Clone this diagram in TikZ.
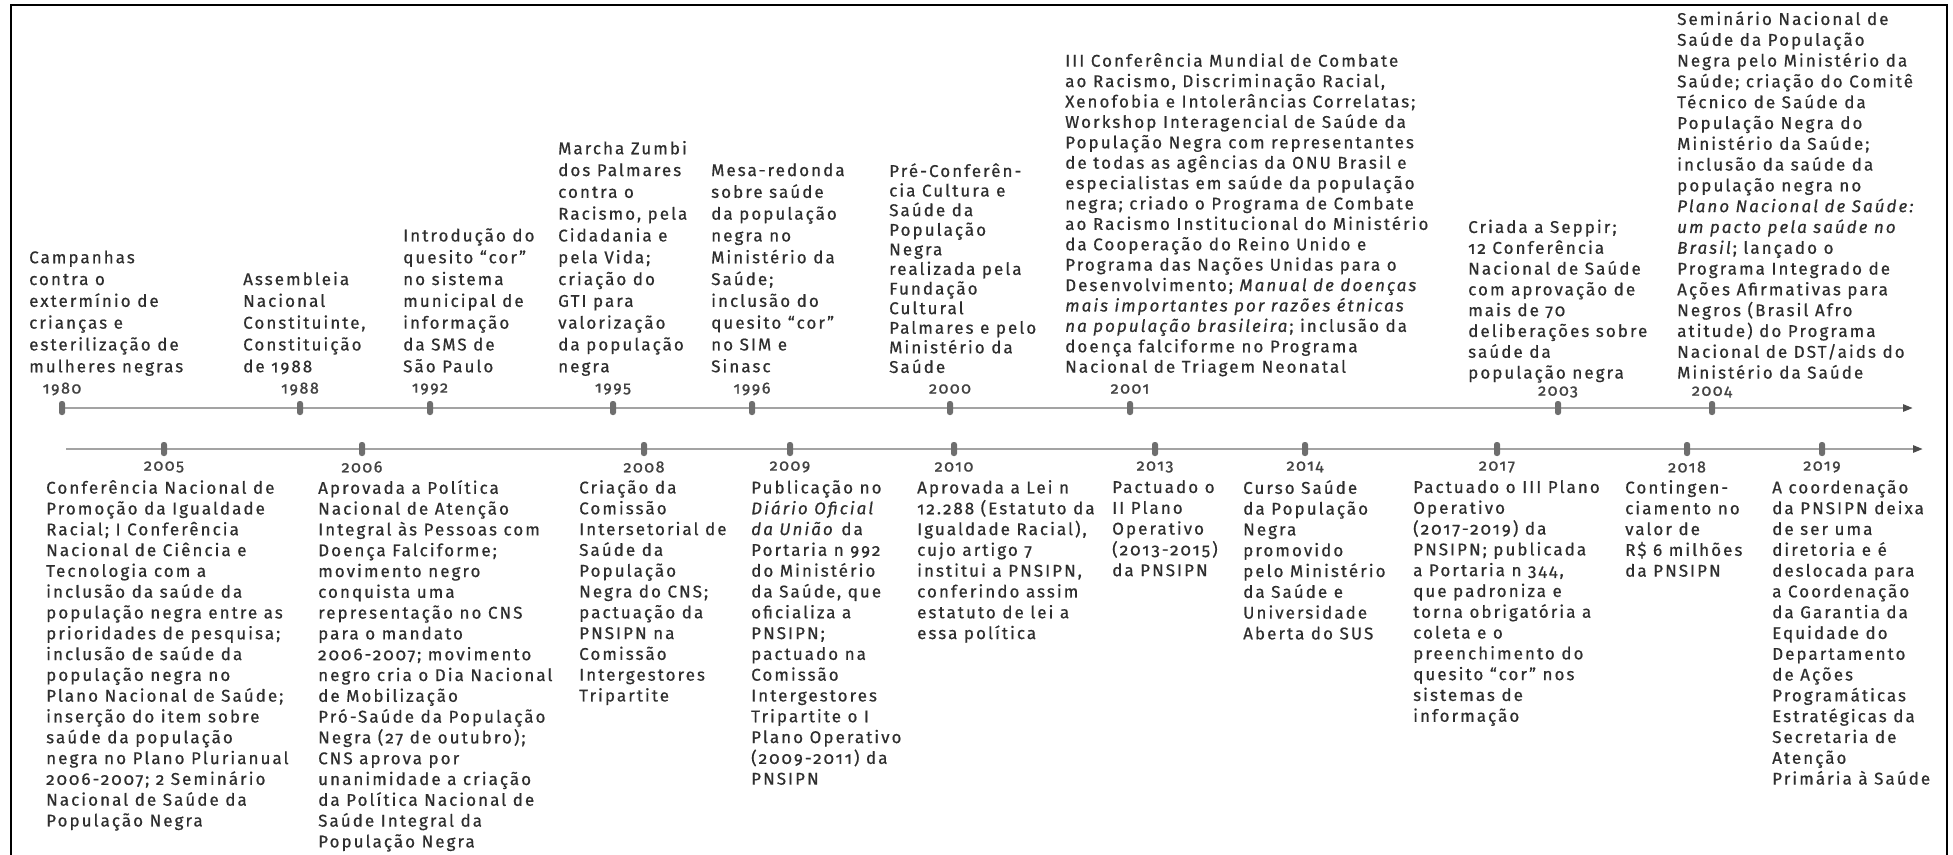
\documentclass[tikz,border=0pt]{standalone}
\usepackage{fontspec}
\setmainfont{Fira Sans}[Numbers=OldStyle,LetterSpace=12,FakeBold=0.6]
\newfontfamily\yearfont{Fira Sans}[Numbers=OldStyle,LetterSpace=10,FakeBold=1.2]
\usetikzlibrary{arrows.meta}
\definecolor{ink}{HTML}{2E2E2E}
\definecolor{axisgray}{HTML}{A3A3A3}
\definecolor{tickgray}{HTML}{6E6E6E}
\begin{document}
\begin{tikzpicture}[x=1pt,y=-1pt,
  up/.style={anchor=south west, align=left, inner sep=0pt, text=ink, font=\fontsize{17}{21.8}\selectfont, execute at end node=\strut},
  dn/.style={anchor=north west, align=left, inner sep=0pt, text=ink, font=\fontsize{17}{20.8}\selectfont, execute at begin node=\strut},
  yr/.style={inner sep=0pt, text=ink!90, font=\yearfont\fontsize{16}{16}\selectfont},
  tk/.style={fill=tickgray, rounded corners=2.5pt, minimum width=6pt, minimum height=14pt, inner sep=0pt},
  axisline/.style={draw=axisgray, line width=2.6pt, -{Triangle[length=10pt,width=7pt,color=black!70]}}]
\useasboundingbox (0,0) rectangle (1953,854);
\draw[line width=2.2pt] (11,860) -- (11,5) -- (1947,5) -- (1947,860);
\coordinate (us) at (59,408);
\coordinate (ue) at (1913,408);
\coordinate (ls) at (66,449);
\coordinate (le) at (1923,449);
\draw[axisline] (us) -- (ue);
\draw[axisline] (ls) -- (le);
\node[tk] (k80) at (62,408) {};
\node[tk] (k88) at (300,408) {};
\node[tk] (k92) at (430,408) {};
\node[tk] (k95) at (613,408) {};
\node[tk] (k96) at (752,408) {};
\node[tk] (k00) at (950,408) {};
\node[tk] (k01) at (1130,408) {};
\node[tk] (k03) at (1558,408) {};
\node[tk] (k04) at (1712,408) {};
\node[tk] (k05) at (164,449) {};
\node[tk] (k06) at (362,449) {};
\node[tk] (k08) at (644,449) {};
\node[tk] (k09) at (790,449) {};
\node[tk] (k10) at (954,449) {};
\node[tk] (k13) at (1155,449) {};
\node[tk] (k14) at (1305,449) {};
\node[tk] (k17) at (1497,449) {};
\node[tk] (k18) at (1687,449) {};
\node[tk] (k19) at (1822,449) {};
\node[yr] (y80) at (62,389) {1980};
\node[yr] (y88) at (300,389) {1988};
\node[yr] (y92) at (430,389) {1992};
\node[yr] (y95) at (613,389) {1995};
\node[yr] (y96) at (752,389) {1996};
\node[yr] (y00) at (950,389) {2000};
\node[yr] (y01) at (1130,389) {2001};
\node[yr] (y03) at (1558,392) {2003};
\node[yr] (y04) at (1712,392) {2004};
\node[yr] (y05) at (164,467) {2005};
\node[yr] (y06) at (362,467) {2006};
\node[yr] (y08) at (644,467) {2008};
\node[yr] (y09) at (790,467) {2009};
\node[yr] (y10) at (954,467) {2010};
\node[yr] (y13) at (1155,467) {2013};
\node[yr] (y14) at (1305,467) {2014};
\node[yr] (y17) at (1497,467) {2017};
\node[yr] (y18) at (1687,467) {2018};
\node[yr] (y19) at (1822,467) {2019};
\node[up] (t80) at (29,379) {Campanhas\\contra o\\extermínio de\\crianças e\\esterilização de\\mulheres negras};
\node[up] (t88) at (243,379) {Assembleia\\Nacional\\Constituinte,\\Constituição\\de 1988};
\node[up] (t92) at (403,379) {Introdução do\\quesito “cor”\\no sistema\\municipal de\\informação\\da SMS de\\São Paulo};
\node[up] (t95) at (558,379) {Marcha Zumbi\\dos Palmares\\contra o\\Racismo, pela\\Cidadania e\\pela Vida;\\criação do\\GTI para\\valorização\\da população\\negra};
\node[up] (t96) at (711,379) {Mesa-redonda\\sobre saúde\\da população\\negra no\\Ministério da\\Saúde;\\inclusão do\\quesito “cor”\\no SIM e\\Sinasc};
\node[up, font=\fontsize{17}{19.6}\selectfont] (t00) at (889,379) {Pré-Conferên-\\cia Cultura e\\Saúde da\\População\\Negra\\realizada pela\\Fundação\\Cultural\\Palmares e pelo\\Ministério da\\Saúde};
\node[up, font=\fontsize{17}{20.4}\selectfont] (t01) at (1065,379) {III Conferência Mundial de Combate\\ao Racismo, Discriminação Racial,\\Xenofobia e Intolerâncias Correlatas;\\Workshop Interagencial de Saúde da\\População Negra com representantes\\de todas as agências da ONU Brasil e\\especialistas em saúde da população\\negra; criado o Programa de Combate\\ao Racismo Institucional do Ministério\\da Cooperação do Reino Unido e\\Programa das Nações Unidas para o\\Desenvolvimento; \textit{Manual de doenças}\\\textit{mais importantes por razões étnicas}\\\textit{na população brasileira}; inclusão da\\doença falciforme no Programa\\Nacional de Triagem Neonatal};
\node[up, font=\fontsize{17}{20.8}\selectfont] (t03) at (1468,385) {Criada a Seppir;\\12 Conferência\\Nacional de Saúde\\com aprovação de\\mais de 70\\deliberações sobre\\saúde da\\população negra};
\node[up, font=\fontsize{17}{20.8}\selectfont] (t04) at (1677,385) {Seminário Nacional de\\Saúde da População\\Negra pelo Ministério da\\Saúde; criação do Comitê\\Técnico de Saúde da\\População Negra do\\Ministério da Saúde;\\inclusão da saúde da\\população negra no\\\textit{Plano Nacional de Saúde:}\\\textit{um pacto pela saúde no}\\\textit{Brasil}; lançado o\\Programa Integrado de\\Ações Afirmativas para\\Negros (Brasil Afro\\atitude) do Programa\\Nacional de DST/aids do\\Ministério da Saúde};
\node[dn] (t05) at (46,480) {Conferência Nacional de\\Promoção da Igualdade\\Racial; I Conferência\\Nacional de Ciência e\\Tecnologia com a\\inclusão da saúde da\\população negra entre as\\prioridades de pesquisa;\\inclusão de saúde da\\população negra no\\Plano Nacional de Saúde;\\inserção do item sobre\\saúde da população\\negra no Plano Plurianual\\2006-2007; 2 Seminário\\Nacional de Saúde da\\População Negra};
\node[dn] (t06) at (318,480) {Aprovada a Política\\Nacional de Atenção\\Integral às Pessoas com\\Doença Falciforme;\\movimento negro\\conquista uma\\representação no CNS\\para o mandato\\2006-2007; movimento\\negro cria o Dia Nacional\\de Mobilização\\Pró-Saúde da População\\Negra (27 de outubro);\\CNS aprova por\\unanimidade a criação\\da Política Nacional de\\Saúde Integral da\\População Negra};
\node[dn] (t08) at (579,480) {Criação da\\Comissão\\Intersetorial de\\Saúde da\\População\\Negra do CNS;\\pactuação da\\PNSIPN na\\Comissão\\Intergestores\\Tripartite};
\node[dn] (t09) at (751,480) {Publicação no\\\textit{Diário Oficial}\\\textit{da União} da\\Portaria n 992\\do Ministério\\da Saúde, que\\oficializa a\\PNSIPN;\\pactuado na\\Comissão\\Intergestores\\Tripartite o I\\Plano Operativo\\(2009-2011) da\\PNSIPN};
\node[dn] (t10) at (917,480) {Aprovada a Lei n\\12.288 (Estatuto da\\Igualdade Racial),\\cujo artigo 7\\institui a PNSIPN,\\conferindo assim\\estatuto de lei a\\essa política};
\node[dn] (t13) at (1112,480) {Pactuado o\\II Plano\\Operativo\\(2013-2015)\\da PNSIPN};
\node[dn] (t14) at (1243,480) {Curso Saúde\\da População\\Negra\\promovido\\pelo Ministério\\da Saúde e\\Universidade\\Aberta do SUS};
\node[dn] (t17) at (1413,480) {Pactuado o III Plano\\Operativo\\(2017-2019) da\\PNSIPN; publicada\\a Portaria n 344,\\que padroniza e\\torna obrigatória a\\coleta e o\\preenchimento do\\quesito “cor” nos\\sistemas de\\informação};
\node[dn] (t18) at (1625,480) {Contingen-\\ciamento no\\valor de\\R\$ 6 milhões\\da PNSIPN};
\node[dn] (t19) at (1772,480) {A coordenação\\da PNSIPN deixa\\de ser uma\\diretoria e é\\deslocada para\\a Coordenação\\da Garantia da\\Equidade do\\Departamento\\de Ações\\Programáticas\\Estratégicas da\\Secretaria de\\Atenção\\Primária à Saúde};
\end{tikzpicture}
\end{document}
